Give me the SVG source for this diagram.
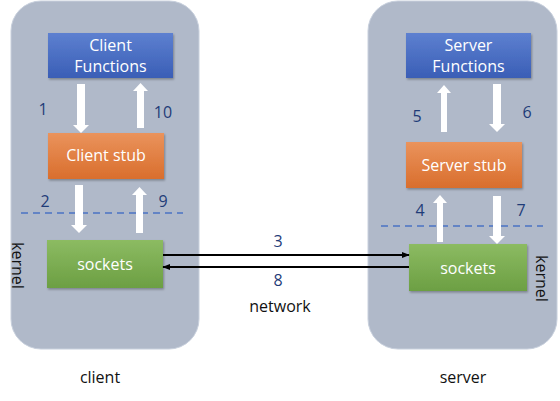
<svg xmlns="http://www.w3.org/2000/svg" width="560" height="401" viewBox="0 0 560 401">
<style>
.panel{fill:#B0B9C9;stroke:#C8D0DD;stroke-width:1}
.lbl{font-family:"Open Sans","Liberation Sans",sans-serif;font-size:16px;fill:#FFFFFF;text-anchor:middle}
.num{font-family:"Open Sans","Liberation Sans",sans-serif;font-size:16px;fill:#1F3C78;text-anchor:middle}
.cap{font-family:"Open Sans","Liberation Sans",sans-serif;font-size:16px;fill:#111111;text-anchor:middle}
.dash{stroke:#4A73C4;stroke-width:1.5;stroke-dasharray:7,5;fill:none}
.wa{fill:#FFFFFF}
.conn{stroke:#000000;stroke-width:2;fill:none}
</style>
<defs>
<linearGradient id="gb" x1="0" y1="0" x2="0" y2="1"><stop offset="0" stop-color="#5D80D0"/><stop offset="1" stop-color="#3A5EB6"/></linearGradient>
<linearGradient id="go" x1="0" y1="0" x2="0" y2="1"><stop offset="0" stop-color="#EA935C"/><stop offset="1" stop-color="#D96E2D"/></linearGradient>
<linearGradient id="gg" x1="0" y1="0" x2="0" y2="1"><stop offset="0" stop-color="#8CBB62"/><stop offset="1" stop-color="#6C9F43"/></linearGradient>
<filter id="sh" x="-10%" y="-10%" width="130%" height="140%"><feDropShadow dx="1" dy="1.5" stdDeviation="1" flood-color="#000" flood-opacity="0.3"/></filter>
<marker id="ah" viewBox="0 0 10 10" refX="9" refY="5" markerWidth="4" markerHeight="4" orient="auto" markerUnits="strokeWidth"><path d="M0,1 L10,5 L0,9 z" fill="#000000"/></marker>
</defs>

<g id="client-panel">
<rect class="panel" x="11" y="1" width="188" height="348" rx="30" ry="30"/>
<text class="cap" x="100" y="383">client</text>
<text class="cap" transform="translate(12,242) rotate(90)" style="text-anchor:start">kernel</text>
<line class="dash" x1="21" y1="213" x2="183" y2="213"/>
</g>

<g id="server-panel">
<rect class="panel" x="368" y="1" width="189" height="348" rx="30" ry="30"/>
<text class="cap" x="463" y="383">server</text>
<text class="cap" transform="translate(536,255) rotate(90)" style="text-anchor:start">kernel</text>
<line class="dash" x1="381" y1="226" x2="543" y2="226"/>
</g>

<g id="client-functions">
<rect x="48" y="33" width="125" height="45" fill="url(#gb)" filter="url(#sh)"/>
<text class="lbl" x="110.5" y="51">Client</text>
<text class="lbl" x="110.5" y="72">Functions</text>
</g>

<g id="client-stub">
<rect x="48" y="133" width="116" height="46" fill="url(#go)" filter="url(#sh)"/>
<text class="lbl" x="106" y="161">Client stub</text>
</g>

<g id="client-sockets">
<rect x="47" y="240" width="116" height="48" fill="url(#gg)" filter="url(#sh)"/>
<text class="lbl" x="105" y="270">sockets</text>
</g>

<g id="server-functions">
<rect x="406" y="33" width="125" height="45" fill="url(#gb)" filter="url(#sh)"/>
<text class="lbl" x="468.5" y="51">Server</text>
<text class="lbl" x="468.5" y="72">Functions</text>
</g>

<g id="server-stub">
<rect x="406" y="142" width="116" height="46" fill="url(#go)" filter="url(#sh)"/>
<text class="lbl" x="464" y="171">Server stub</text>
</g>

<g id="server-sockets">
<rect x="409" y="244" width="118" height="47" fill="url(#gg)" filter="url(#sh)"/>
<text class="lbl" x="468" y="274">sockets</text>
</g>

<g id="connectors">
<path class="wa" d="M77,84 H85 V125 H89 L81,133 L73,125 H77 Z"/>
<path class="wa" d="M137,128 H144 V91 H148 L140.5,83 L133,91 H137 Z"/>
<path class="wa" d="M75,185 H83 V225 H87 L79,233 L71,225 H75 Z"/>
<path class="wa" d="M136,233 H143 V195 H147 L139.5,187 L132,195 H136 Z"/>
<path class="wa" d="M441,132 H447 V93 H451 L444,85 L437,93 H441 Z"/>
<path class="wa" d="M493,84 H501 V124 H505 L497,132 L489,124 H493 Z"/>
<path class="wa" d="M437,242 H443 V203 H447 L440,195 L433,203 H437 Z"/>
<path class="wa" d="M493,196 H501 V236 H505 L497,244 L489,236 H493 Z"/>
<line class="conn" x1="163" y1="255" x2="409" y2="255" marker-end="url(#ah)"/>
<line class="conn" x1="409" y1="267" x2="163" y2="267" marker-end="url(#ah)"/>
</g>

<g id="labels">
<text class="num" x="43" y="115">1</text>
<text class="num" x="163" y="118">10</text>
<text class="num" x="45" y="207">2</text>
<text class="num" x="163" y="207">9</text>
<text class="num" x="278" y="247">3</text>
<text class="num" x="278" y="286">8</text>
<text class="cap" x="280" y="312">network</text>
<text class="num" x="417" y="122">5</text>
<text class="num" x="527" y="118">6</text>
<text class="num" x="420" y="216">4</text>
<text class="num" x="521" y="216">7</text>
</g>
</svg>
